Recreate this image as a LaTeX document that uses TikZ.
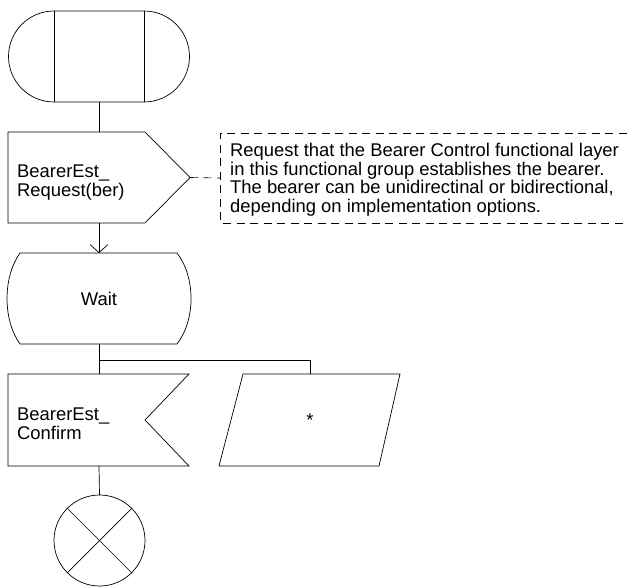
\documentclass[tikz,border=0pt]{standalone}
\usepackage{fontspec}
\setmainfont{Liberation Sans}
\usetikzlibrary{arrows.meta,calc}
\begin{document}
\begin{tikzpicture}[x=1pt,y=1pt,
  ln/.style={line width=0.7pt,draw=black},
  cmt/.style={line width=0.6pt,dash pattern=on 8pt off 5.5pt},
  lbl/.style={font=\fontsize{18.4}{18.5}\selectfont,inner sep=0pt,align=left},
  box/.style={inner sep=0pt,outer sep=0pt}]
\useasboundingbox (0,0) rectangle (628,587);
% named frames of the symbols
\node[box,minimum width=181pt,minimum height=91pt] (start) at (99,530.5) {};
\node[box,minimum width=182pt,minimum height=91pt] (send) at (99,409.5) {};
\node[box,minimum width=184pt,minimum height=91pt] (wait) at (99,288.5) {};
\node[box,minimum width=181pt,minimum height=92pt] (recv) at (98.5,167) {};
\node[box,minimum width=181pt,minimum height=92pt] (para) at (309.5,167) {};
\node[box,circle,minimum size=91pt] (stop) at (99.5,46.5) {};
\node[box,minimum width=420pt,minimum height=90pt,anchor=west] (note) at (220,409) {};
\coordinate (sendtip) at (190,409.5);
\coordinate (branch) at (99,227);
\coordinate (branchr) at (310,227);

% start symbol
\draw[ln] (54,576) -- (144,576) arc[start angle=90,end angle=-90,radius=45.5] -- (54,485)
  arc[start angle=270,end angle=90,radius=45.5] -- cycle;
\draw[ln] (54,576) -- (54,485) (144,576) -- (144,485);

% send signal
\draw[ln] (8,455) -- (145,455) -- (sendtip) -- (145,364) -- (8,364) -- cycle;
\node[lbl,anchor=west] (sendtxt) at (17,404.5) {BearerEst\_\\Request(ber)};

% comment
\draw[cmt] (640,454) -- (220,454) -- (220,364) -- (640,364);
\draw[cmt] (sendtip) -- (note.west);
\node[lbl,anchor=west] (notetxt) at (230,407.5) {Request that the Bearer Control functional layer\\in this functional group establishes the bearer.\\The bearer can be unidirectinal or bidirectional,\\depending on implementation options.};

% wait state
\draw[ln] (20,334) -- (177,334) .. controls (195.7,310) and (195.7,267) .. (177,243)
  -- (20,243) .. controls (2.7,267) and (2.7,310) .. (20,334) -- cycle;
\node[lbl] (waittxt) at (99,288.5) {Wait};

% receive signal
\draw[ln] (8,213) -- (189,213) -- (145,167) -- (189,121) -- (8,121) -- cycle;
\node[lbl,anchor=west] (recvtxt) at (17,163) {BearerEst\_\\Confirm};

% parallelogram
\draw[ln] (243,213) -- (400,213) -- (379,121) -- (219,121) -- cycle;
\node[lbl] (startxt) at (310,167) {*};

% stop
\draw[ln] (stop) circle[radius=45.5];
\draw[ln] (stop.north west) -- (stop.south east) (stop.north east) -- (stop.south west);

% connectors
\draw[ln] (start.south) -- (send.north);
\draw[ln,-{Straight Barb[length=8pt,width=18pt,line width=0.7pt]}] (send.south) -- (wait.north);
\draw[ln] (wait.south) -- (recv.north -| wait.south);
\draw[ln] (branch) -- (branchr) -- (para.north -| branchr);
\draw[ln] (recv.south -| wait.south) -- (stop.north);
\end{tikzpicture}
\end{document}
